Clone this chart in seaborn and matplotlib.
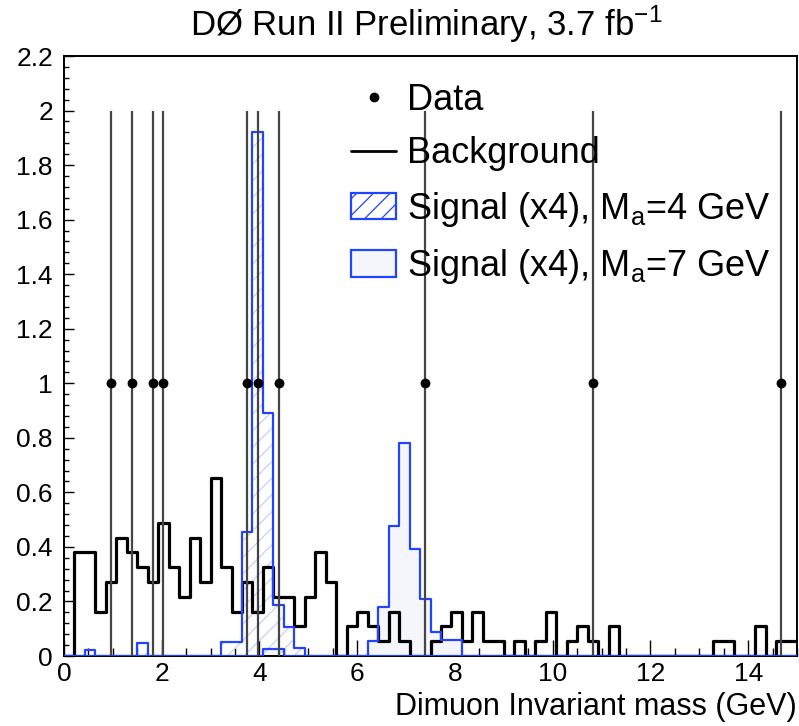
import numpy as np
import pandas as pd
import matplotlib
matplotlib.use("Agg")
import matplotlib.pyplot as plt
import seaborn as sns
from matplotlib.lines import Line2D
from matplotlib.patches import Patch
from matplotlib.ticker import MultipleLocator, FuncFormatter

# ---- binning of the dimuon invariant mass (GeV) ----
n_bins = 70
mass_min, mass_max = 0.0, 15.0

# background expectation per bin
background = [0.0, 0.380, 0.380, 0.163, 0.272, 0.434, 0.380, 0.326, 0.272, 0.489,
              0.326, 0.217, 0.434, 0.272, 0.652, 0.326, 0.163, 0.272, 0.163, 0.326,
              0.217, 0.217, 0.109, 0.217, 0.380, 0.272, 0.0, 0.109, 0.163, 0.109,
              0.054, 0.163, 0.054, 0.0, 0.0, 0.054, 0.109, 0.163, 0.054, 0.163,
              0.054, 0.054, 0.0, 0.054, 0.0, 0.054, 0.163, 0.0, 0.054, 0.109,
              0.054, 0.0, 0.109, 0.0, 0.0, 0.0, 0.0, 0.0, 0.0, 0.0,
              0.0, 0.0, 0.054, 0.054, 0.0, 0.0, 0.109, 0.0, 0.054, 0.054]

# signal (x4), M_a = 4 GeV
signal_4 = [0.0, 0.0, 0.022, 0.0, 0.0, 0.0, 0.0, 0.049, 0.0, 0.0,
            0.0, 0.0, 0.0, 0.0, 0.0, 0.053, 0.053, 0.456, 1.92, 0.89,
            0.187, 0.108, 0.028, 0.0, 0.0, 0.0, 0.0, 0.0, 0.0, 0.0,
            0.0, 0.0, 0.0, 0.0, 0.0, 0.0, 0.0, 0.0, 0.0, 0.0,
            0.0, 0.0, 0.0, 0.0, 0.0, 0.0, 0.0, 0.0, 0.0, 0.0,
            0.0, 0.0, 0.0, 0.0, 0.0, 0.0, 0.0, 0.0, 0.0, 0.0,
            0.0, 0.0, 0.0, 0.0, 0.0, 0.0, 0.0, 0.0, 0.0, 0.0]

# signal (x4), M_a = 7 GeV
signal_7 = [0.0, 0.0, 0.0, 0.0, 0.0, 0.0, 0.0, 0.0, 0.0, 0.0,
            0.0, 0.0, 0.0, 0.0, 0.0, 0.0, 0.0, 0.0, 0.0, 0.025,
            0.025, 0.0, 0.0, 0.0, 0.0, 0.0, 0.0, 0.0, 0.0, 0.054,
            0.178, 0.478, 0.78, 0.393, 0.208, 0.087, 0.059, 0.059, 0.0, 0.0,
            0.0, 0.0, 0.0, 0.0, 0.0, 0.0, 0.0, 0.0, 0.0, 0.0,
            0.0, 0.0, 0.0, 0.0, 0.0, 0.0, 0.0, 0.0, 0.0, 0.0,
            0.0, 0.0, 0.0, 0.0, 0.0, 0.0, 0.0, 0.0, 0.0, 0.0]

# observed events per bin
data_counts = [0, 0, 0, 0, 1, 0, 1, 0, 1, 1,
               0, 0, 0, 0, 0, 0, 0, 1, 1, 0,
               1, 0, 0, 0, 0, 0, 0, 0, 0, 0,
               0, 0, 0, 0, 1, 0, 0, 0, 0, 0,
               0, 0, 0, 0, 0, 0, 0, 0, 0, 0,
               1, 0, 0, 0, 0, 0, 0, 0, 0, 0,
               0, 0, 0, 0, 0, 0, 0, 0, 1, 0]

title_text = r"DØ Run II Preliminary, 3.7 fb$^{\mathregular{-1}}$"
xlabel_text = "Dimuon Invariant mass (GeV)"
legend_labels = ["Data", "Background",
                 r"Signal (x4), M$_{\mathregular{a}}$=4 GeV",
                 r"Signal (x4), M$_{\mathregular{a}}$=7 GeV"]

# ---- style ----
sns.set_style("white")
plt.rcParams["font.family"] = ["Liberation Sans", "DejaVu Sans"]
plt.rcParams["mathtext.fontset"] = "custom"
plt.rcParams["mathtext.rm"] = "Liberation Sans"
plt.rcParams["mathtext.it"] = "Liberation Sans:italic"
plt.rcParams["mathtext.default"] = "regular"
plt.rcParams["hatch.linewidth"] = 0.9
for key in ("text.color", "axes.labelcolor", "xtick.color", "ytick.color",
            "axes.edgecolor"):
    plt.rcParams[key] = "black"

blue = "#2244ff"
hatch_blue = "#c9d1f5"
tint_7 = "#f5f6fb"

edges = np.linspace(mass_min, mass_max, n_bins + 1)
bin_edges = edges.tolist()
centers = 0.5 * (edges[:-1] + edges[1:])
df = pd.DataFrame({"mass": centers, "background": background,
                   "sig4": signal_4, "sig7": signal_7, "data": data_counts})

fig = plt.figure(figsize=(7.99, 7.26), dpi=100)
ax = fig.add_axes([64 / 799, 70 / 726, 733 / 799, 600 / 726])

# signal fills (light pattern for 4 GeV, faint tint for 7 GeV)
ax.fill_between(edges, np.append(df["sig7"].values, 0.0), step="post",
                facecolor=tint_7, edgecolor="none", linewidth=0, zorder=1)
ax.fill_between(edges, np.append(df["sig4"].values, 0.0), step="post",
                facecolor="none", edgecolor=hatch_blue, hatch="//",
                linewidth=0, zorder=1.1)

# histogram outlines
sns.histplot(data=df, x="mass", weights="background", bins=bin_edges,
             element="step", fill=False, color="black", linewidth=2.3,
             ax=ax, zorder=3)
sns.histplot(data=df, x="mass", weights="sig7", bins=bin_edges,
             element="step", fill=False, color=blue, linewidth=1.6,
             ax=ax, zorder=4)
sns.histplot(data=df, x="mass", weights="sig4", bins=bin_edges,
             element="step", fill=False, color=blue, linewidth=1.6,
             ax=ax, zorder=4)

# data points with Poisson error bars
obs = df[df["data"] > 0]
ax.errorbar(obs["mass"], obs["data"], yerr=np.sqrt(obs["data"]),
            fmt="none", ecolor="#454545", elinewidth=1.6, capsize=0, zorder=5)
sns.scatterplot(data=obs, x="mass", y="data", color="black", s=50,
                edgecolor="black", linewidth=0, ax=ax, zorder=6)

# ---- axes ----
ax.set_xlim(mass_min, mass_max)
ax.set_ylim(0, 2.2)
ax.xaxis.set_major_locator(MultipleLocator(2))
ax.xaxis.set_minor_locator(MultipleLocator(0.5))
ax.yaxis.set_major_locator(MultipleLocator(0.2))
ax.yaxis.set_minor_locator(MultipleLocator(0.04))
ax.yaxis.set_major_formatter(FuncFormatter(lambda v, _: f"{v:g}"))
ax.tick_params(axis="both", which="both", direction="in", width=1.0,
               color="black", bottom=True, left=True, top=False, right=False)
ax.tick_params(axis="both", which="major", labelsize=19)
ax.tick_params(axis="x", which="major", length=11.5, pad=4)
ax.tick_params(axis="x", which="minor", length=5.8)
ax.tick_params(axis="y", which="major", length=7.5, pad=8)
ax.tick_params(axis="y", which="minor", length=3.8)
for side in ax.spines.values():
    side.set_color("black")
    side.set_linewidth(1.4)

ax.set_ylabel("")
ax.set_xlabel(xlabel_text, fontsize=22, ha="right")
ax.xaxis.set_label_coords(1.0, -0.06)

# ---- legend ----
handles = [
    Line2D([], [], marker="o", color="black", linestyle="none", markersize=6),
    Line2D([], [], color="black", linewidth=2),
    Patch(facecolor="white", edgecolor=blue, hatch="//", linewidth=1.6),
    Patch(facecolor=tint_7, edgecolor=blue, linewidth=1.6),
]
ax.legend(handles, legend_labels, loc="upper left",
          bbox_to_anchor=(0.392, 0.955), frameon=False, fontsize=26,
          handlelength=1.25, handleheight=0.75, handletextpad=0.28,
          labelspacing=0.51, borderpad=0, borderaxespad=0)

fig.text(426 / 799, 1 - 24 / 726, title_text, ha="center", va="center",
         fontsize=25)

fig.savefig("out.png", dpi=100)
